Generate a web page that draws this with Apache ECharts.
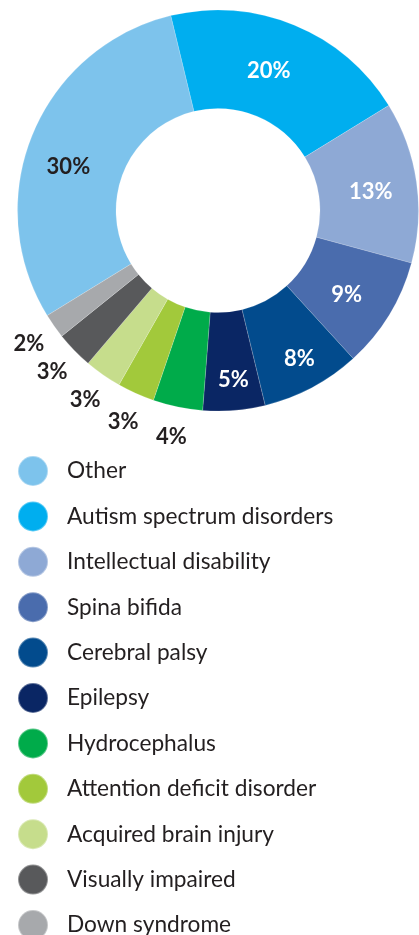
<!DOCTYPE html>
<html>
<head>
<meta charset="utf-8">
<script src="https://cdn.jsdelivr.net/npm/echarts@6/dist/echarts.min.js"></script>
<style>
  html, body { margin: 0; padding: 0; background: #ffffff; }
  #chart { width: 419px; height: 935px; }
</style>
</head>
<body>
<div id="chart"></div>
<script>
// Share of participants by primary condition (percent)
const categories = [
  'Other',
  'Autism spectrum disorders',
  'Intellectual disability',
  'Spina bifida',
  'Cerebral palsy',
  'Epilepsy',
  'Hydrocephalus',
  'Attention deficit disorder',
  'Acquired brain injury',
  'Visually impaired',
  'Down syndrome'
];
const values = [30, 20, 13, 9, 8, 5, 4, 3, 3, 3, 2];
const colors = [
  '#7dc3ec', '#00aeef', '#8ea9d5', '#4a6cad', '#024b8d', '#0a2664',
  '#00ab4a', '#a2c93b', '#c6dd8c', '#58595b', '#a7a9ac'
];

// Small slices get their value written just outside the ring
const OUTSIDE_MAX = 4;
const darkText = '#231f20';
const labelFont = 'Lato';

// Hand-tuned nudges for the in-ring value labels
const labelNudges = {
  'Other': [-7, 15],
  'Autism spectrum disorders': [-8, 3],
  'Intellectual disability': [0, 3],
  'Spina bifida': [-3, 4],
  'Cerebral palsy': [9, 12],
  'Epilepsy': [3, 16]
};

const ringData = categories.map((name, i) => {
  const item = {
    name,
    value: values[i],
    itemStyle: { color: colors[i] },
    label: { show: values[i] > OUTSIDE_MAX }
  };
  if (labelNudges[name]) item.label.offset = labelNudges[name];
  if (i === 0) item.label.color = darkText;
  return item;
});

const outerLabelData = categories.map((name, i) => ({
  name,
  value: values[i],
  label: { show: values[i] <= OUTSIDE_MAX }
}));

const chart = echarts.init(document.getElementById('chart'), null, { renderer: 'canvas' });

chart.setOption({
  animation: false,
  backgroundColor: '#ffffff',
  legend: {
    data: categories,
    orient: 'vertical',
    left: 17,
    top: 455,
    height: 600,
    padding: 0,
    icon: 'circle',
    itemWidth: 30,
    itemHeight: 30,
    itemGap: 13.4,
    selectedMode: false,
    textStyle: {
      fontFamily: labelFont,
      fontSize: 22.7,
      color: darkText,
      lineHeight: 30,
      padding: [0, 0, 0, 14]
    }
  },
  series: [
    {
      type: 'pie',
      name: 'conditions',
      center: [218, 210.5],
      radius: [102, 200.5],
      startAngle: 211.6,
      clockwise: true,
      avoidLabelOverlap: false,
      emphasis: { disabled: true },
      itemStyle: { borderColor: 'rgba(255,255,255,0.35)', borderWidth: 0.5 },
      label: {
        position: 'inside',
        formatter: '{c}%',
        fontFamily: labelFont,
        fontWeight: 'bold',
        fontSize: 22,
        color: '#ffffff'
      },
      labelLine: { show: false },
      data: ringData
    },
    {
      type: 'pie',
      name: 'small-labels',
      center: [218, 210.5],
      radius: [212, 245],
      startAngle: 211.6,
      clockwise: true,
      silent: true,
      avoidLabelOverlap: false,
      emphasis: { disabled: true },
      itemStyle: { color: 'transparent' },
      label: {
        position: 'inside',
        formatter: '{c}%',
        fontFamily: labelFont,
        fontWeight: 'bold',
        fontSize: 22,
        color: darkText
      },
      labelLine: { show: false },
      data: outerLabelData
    }
  ]
});
</script>
</body>
</html>
